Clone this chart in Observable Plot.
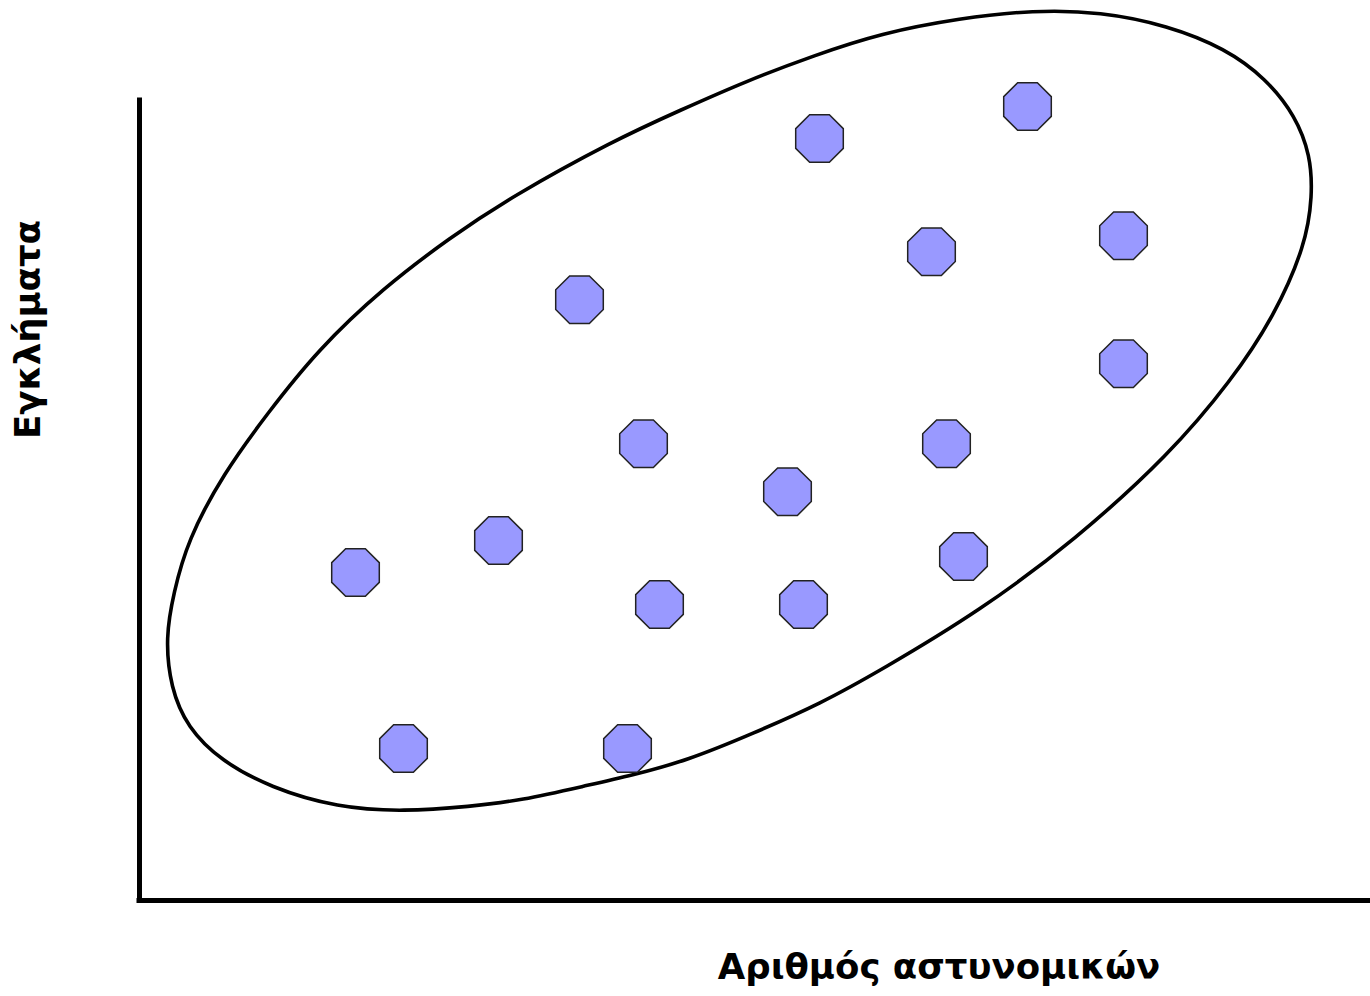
<!DOCTYPE html>
<html>
<head>
<meta charset="utf-8">
<script src="https://cdn.jsdelivr.net/npm/d3@7"></script>
<script src="https://cdn.jsdelivr.net/npm/@observablehq/plot@0.6"></script>
<style>
  html, body { margin: 0; padding: 0; background: #fff; }
  #chart svg { display: block; }
</style>
</head>
<body>
<div id="chart"></div>
<script>
// Axis titles
const xLabel = "Αριθμός αστυνομικών";
const yLabel = "Εγκλήματα";

// Scatter points (arbitrary units: x 0..123, y 0..112.5)
const pointX = [68.0, 88.8, 98.4, 79.2, 44.0, 98.4, 50.4, 80.7, 64.8, 35.9, 21.6, 82.4, 52.0, 66.4, 26.4, 48.8];
const pointY = [95.25, 99.25, 83.1, 81.1, 75.1, 67.1, 57.1, 57.1, 51.1, 45.0, 41.0, 43.0, 37.0, 37.0, 19.0, 19.0];

// Outline of the enclosing ellipse
const outlineX = [2.6, 3.4, 4.8, 8.4, 12.8, 17.8, 24.4, 31.1, 37.1, 47.4, 54.1, 60.8, 67.4, 74.1, 82.1, 89.4, 96.1, 102.8, 108.6, 112.6, 115.6, 117.1, 117.3, 116.6, 113.5, 109.2, 103.0, 93.5, 84.1, 74.1, 68.1, 61.4, 54.8, 49.1, 44.8, 38.1, 33.1, 26.4, 19.8, 13.1, 8.1, 4.8, 3.1];
const outlineY = [32.9, 38.4, 45.0, 53.4, 60.9, 68.8, 76.6, 82.9, 87.9, 95.0, 98.8, 102.5, 105.6, 108.4, 110.3, 111.3, 111.1, 109.4, 106.5, 102.8, 98.1, 93.1, 88.1, 81.9, 73.1, 65.0, 55.75, 45.0, 36.25, 28.75, 24.6, 20.9, 17.5, 15.6, 14.4, 12.5, 11.75, 11.1, 11.6, 14.1, 17.5, 21.6, 26.6];

const xDomain = [0, 123.1];
const yDomain = [0, 112.5];
const axisTop = 100;

const points = pointX.map((x, i) => ({x, y: pointY[i]}));
const outline = outlineX.map((x, i) => ({x, y: outlineY[i]}));

const octagon = {
  draw(context, size) {
    const r = Math.sqrt(size / Math.PI);
    const R = r / Math.cos(Math.PI / 8);
    for (let k = 0; k < 8; ++k) {
      const a = Math.PI / 8 + k * Math.PI / 4;
      const px = R * Math.cos(a), py = R * Math.sin(a);
      if (k === 0) context.moveTo(px, py); else context.lineTo(px, py);
    }
    context.closePath();
  }
};

const labelFont = "'DejaVu Sans', 'Open Sans', sans-serif";

const chart = Plot.plot({
  width: 1370,
  height: 996,
  marginLeft: 139,
  marginRight: 0,
  marginTop: 0,
  marginBottom: 96,
  x: {domain: xDomain, axis: null},
  y: {domain: yDomain, axis: null},
  style: {background: "#fff", fontFamily: labelFont},
  marks: [
    Plot.line(outline, {x: "x", y: "y", curve: "basis-closed", stroke: "#000", strokeWidth: 3.6}),
    Plot.dot(points, {x: "x", y: "y", r: 23.8, symbol: octagon, fill: "#9999ff", stroke: "#222", strokeWidth: 1.5}),
    Plot.ruleX([xDomain[0]], {y1: yDomain[0], y2: axisTop, stroke: "#000", strokeWidth: 5, strokeLinecap: "square"}),
    Plot.ruleY([yDomain[0]], {x1: xDomain[0], x2: xDomain[1], stroke: "#000", strokeWidth: 5, strokeLinecap: "square"}),
    Plot.text([xLabel], {text: d => d, frameAnchor: "bottom", lineAnchor: "bottom", textAnchor: "middle", dx: 184, dy: 78, fontSize: 35.5, fontWeight: "bold", fill: "#000"}),
    Plot.text([yLabel], {text: d => d, frameAnchor: "left", lineAnchor: "bottom", textAnchor: "middle", rotate: -90, dx: -100, dy: -121, fontSize: 35.5, fontWeight: "bold", fill: "#000"})
  ]
});
document.getElementById("chart").appendChild(chart);
</script>
</body>
</html>
